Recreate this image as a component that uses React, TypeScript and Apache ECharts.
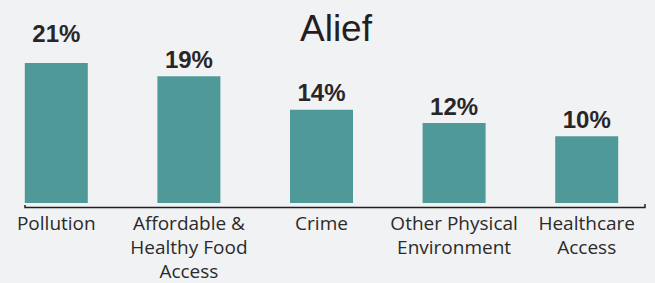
import React, { useEffect, useRef } from "react";
import * as echarts from "echarts";

const categories = [
  "Pollution",
  "Affordable &\nHealthy Food\nAccess",
  "Crime",
  "Other Physical\nEnvironment",
  "Healthcare\nAccess",
];
const values = [21, 19, 14, 12, 10];
const title = "Alief";

const OFFSET = 10; // chart div is shifted left by this much

export default function App() {
  const ref = useRef<HTMLDivElement>(null);
  useEffect(() => {
    document.body.style.margin = "0";
    document.body.style.overflow = "hidden";
    const chart = echarts.init(ref.current!, null, { renderer: "svg" });
    const labelStyle = {
      show: true,
      position: "top",
      distance: 5,
      formatter: "{c}%",
      fontFamily: "Liberation Sans",
      fontSize: 24,
      fontWeight: "bold",
      color: "#2a2627",
    };
    chart.setOption({
      animation: false,
      backgroundColor: "#f1f2f4",
      title: {
        text: title,
        left: 300 + OFFSET,
        top: 10,
        padding: 0,
        textStyle: {
          fontFamily: "Liberation Sans",
          fontSize: 37,
          fontWeight: "normal",
          color: "#231f20",
        },
      },
      grid: { left: 0, right: 2, top: 3, bottom: 76, containLabel: false },
      xAxis: {
        type: "category",
        data: categories,
        axisLine: { show: false },
        axisTick: { show: false },
        axisLabel: {
          interval: 0,
          margin: 8,
          fontFamily: "Open Sans",
          fontSize: 19,
          lineHeight: 24,
          color: "#2b2a2a",
        },
      },
      yAxis: {
        type: "value",
        min: 0,
        max: 30,
        show: false,
        splitLine: { show: false },
      },
      graphic: [
        {
          type: "polyline",
          shape: {
            points: [
              [25 + OFFSET, 205],
              [25 + OFFSET, 207.5],
              [645 + OFFSET, 207.5],
              [645 + OFFSET, 204],
            ],
          },
          style: { stroke: "#231f20", lineWidth: 1.5, fill: null },
          z: 10,
        },
      ],
      series: [
        {
          type: "bar",
          data: values.map((v, i) =>
            i === 0 ? { value: v, label: { distance: 18 } } : v
          ),
          barWidth: 63,
          itemStyle: { color: "#4f9a98" },
          label: labelStyle,
        },
      ],
    });
    return () => chart.dispose();
  }, []);
  return (
    <div
      ref={ref}
      style={{
        position: "absolute",
        left: -OFFSET,
        top: 0,
        width: 655 + OFFSET,
        height: 283,
      }}
    />
  );
}
